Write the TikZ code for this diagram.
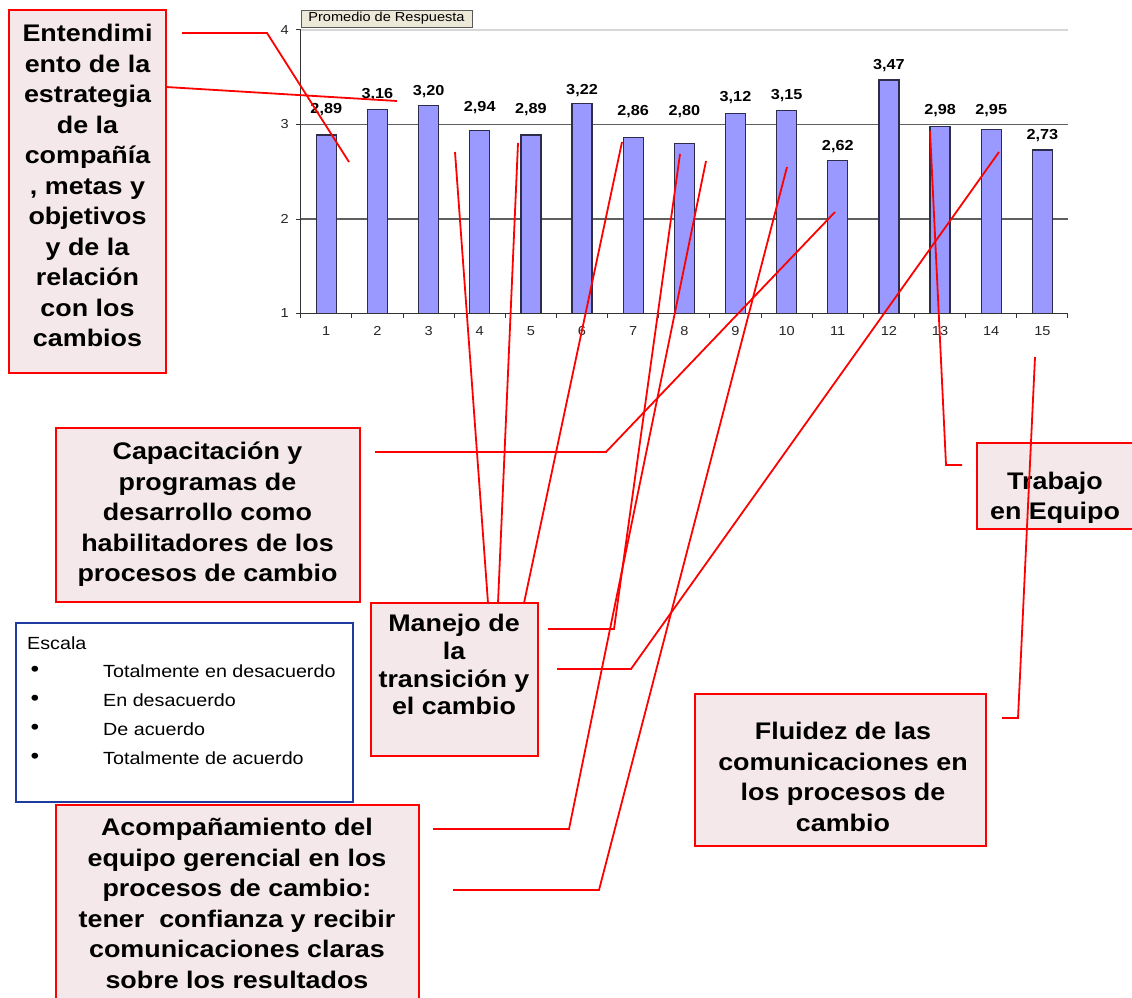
\documentclass[tikz,border=0pt]{standalone}
\usepackage{fontspec}
\setmainfont{Liberation Sans}[FakeStretch=1.12]
\definecolor{boxpink}{RGB}{244,232,234}
\definecolor{barblue}{RGB}{153,153,255}
\definecolor{baredge}{RGB}{45,45,75}
\definecolor{scaleblue}{RGB}{30,60,160}
\definecolor{legendbg}{RGB}{236,233,216}
\definecolor{gridlight}{RGB}{215,215,215}
\definecolor{griddark}{RGB}{95,95,95}
\begin{document}
\begin{tikzpicture}[x=1pt,y=-1pt,
  link/.style={draw=red, line width=1.8pt, line join=miter},
  notebox/.style={draw=red, line width=2pt, fill=boxpink, inner sep=0pt},
  bigtext/.style={font=\fontsize{24}{30.5}\selectfont\bfseries, align=center, inner sep=0pt},
  scaletext/.style={font=\fontsize{17.6}{20}\selectfont, anchor=base west, inner sep=0pt},
  bulletmark/.style={font=\fontsize{22}{22}\selectfont, anchor=base, inner sep=0pt},
  barshape/.style={fill=barblue, draw=baredge, line width=1.3pt},
  vallabel/.style={font=\fontsize{14.5}{15}\selectfont\bfseries, inner sep=0pt},
  ticklabel/.style={font=\fontsize{13}{13}\selectfont, text=black!85, inner sep=0pt},
  axisline/.style={draw=black!80, line width=1.2pt}]

\useasboundingbox (0,0) rectangle (1132,998);
\clip (0,0) rectangle (1132,998);
\fill[white] (0,0) rectangle (1132,998);

% ---------- bar chart ----------
\draw[gridlight, line width=1.2pt] (300.7,30) -- (1068,30);
\draw[griddark, line width=1.1pt] (300.7,124.5) -- (1068,124.5);
\draw[griddark, line width=1.1pt] (300.7,219) -- (1068,219);

\foreach \i/\v/\ly/\t in {1/2.89/110/{2,89}, 2/3.16/95/{3,16}, 3/3.20/92/{3,20},
    4/2.94/108/{2,94}, 5/2.89/110/{2,89}, 6/3.22/91/{3,22}, 7/2.86/112/{2,86},
    8/2.80/112/{2,80}, 9/3.12/98/{3,12}, 10/3.15/96/{3,15}, 11/2.62/147/{2,62},
    12/3.47/66/{3,47}, 13/2.98/111/{2,98}, 14/2.95/111/{2,95}, 15/2.73/136/{2,73}} {
  \pgfmathsetmacro\cx{300.7+(\i-0.5)*51.15}
  \pgfmathsetmacro\tp{313.5-(\v-1)*94.5}
  \draw[barshape] ({\cx-10},313.5) rectangle ({\cx+10},\tp);
  \node[vallabel] (val\i) at (\cx,\ly) {\t};
  \node[ticklabel] (cat\i) at (\cx,331) {\i};
}

\draw[axisline] (300.7,30) -- (300.7,313.5) -- (1068,313.5);
\foreach \k in {0,...,15}
  \draw[axisline, line width=1pt] ({300.7+\k*51.15},313.5) -- ++(0,4);
\foreach \v in {1,2,3,4} {
  \pgfmathsetmacro\yy{313.5-(\v-1)*94.5}
  \draw[axisline, line width=1pt] (296.2,\yy) -- (300.7,\yy);
  \node[ticklabel, anchor=east] (ylab\v) at (289,\yy) {\v};
}

\node[draw=black!65, fill=legendbg, line width=0.9pt, minimum width=171pt,
      minimum height=17pt, inner sep=0pt, font=\fontsize{13}{13}\selectfont]
      (legend) at (386.5,18.5) {Promedio de Respuesta};

% ---------- callout boxes ----------
\node[notebox, minimum width=157pt, minimum height=363pt] (ent) at (87.5,191.5) {};
\node[bigtext] (enttxt) at (87.5,185.5) {Entendimi\\ento de la\\estrategia\\de la\\compañía\\, metas y\\objetivos\\y de la\\relación\\con los\\cambios};

\node[notebox, minimum width=304pt, minimum height=174pt] (cap) at (208,515) {};
\node[bigtext] (captxt) at (207.5,514.5) {Capacitación y\\programas de\\desarrollo como\\habilitadores de los\\procesos de cambio};

\node[notebox, minimum width=167pt, minimum height=153pt] (man) at (454.5,679.5) {};
\node[bigtext, font=\fontsize{24}{27.8}\selectfont\bfseries] (mantxt) at (454,664.6)
  {Manejo de\\la\\transición y\\el cambio};

\node[notebox, minimum width=363pt, minimum height=205pt] (aco) at (237.5,907.5) {};
\node[bigtext] (acotxt) at (237,903.5) {Acompañamiento del\\equipo gerencial en los\\procesos de cambio:\\tener\ \ confianza y recibir\\comunicaciones claras\\sobre los resultados};

\node[notebox, minimum width=291pt, minimum height=152pt] (flu) at (840.5,770) {};
\node[bigtext] (flutxt) at (843,777) {Fluidez de las\\comunicaciones en\\los procesos de\\cambio};

\node[notebox, minimum width=173pt, minimum height=86pt] (tra) at (1063.5,486) {};
\begin{scope}
  \clip (978,444) rectangle (1140,522);
  \node[bigtext, font=\fontsize{24}{29.3}\selectfont\bfseries] (tratxt) at (1055,498.4) {Trabajo\\en Equipo};
\end{scope}

% ---------- scale legend ----------
\node[draw=scaleblue, line width=1.6pt, fill=white, minimum width=337pt,
      minimum height=179pt, inner sep=0pt] (esc) at (184.5,712.5) {};
\node[scaletext] (esc0) at (27,649) {Escala};
\foreach \n/\yb/\t in {1/677/{Totalmente en desacuerdo}, 2/706/{En desacuerdo},
                       3/735/{De acuerdo}, 4/764/{Totalmente de acuerdo}} {
  \node[bulletmark] (bul\n) at (35,{\yb-1}) {•};
  \node[scaletext] (esc\n) at (103,\yb) {\t};
}

% ---------- connector end points ----------
\coordinate (a1) at (182,33);  \coordinate (a2) at (267,33);  \coordinate (a3) at (349,162);
\coordinate (b1) at (166,87);  \coordinate (b2) at (397,101);
\coordinate (c1) at (375,452); \coordinate (c2) at (606,452); \coordinate (c3) at (835,212);
\coordinate (m1) at (488,603); \coordinate (m1t) at (455,152);
\coordinate (m2) at (498,603); \coordinate (m2t) at (518,143);
\coordinate (m3) at (524,603); \coordinate (m3t) at (622,142);
\coordinate (r1) at (548,629); \coordinate (r1k) at (614,629); \coordinate (r1t) at (680,154);
\coordinate (r2) at (557,669); \coordinate (r2k) at (631,669); \coordinate (r2t) at (999,152);
\coordinate (g1) at (433,829); \coordinate (g1k) at (569,829); \coordinate (g1t) at (706,161);
\coordinate (g2) at (453,890); \coordinate (g2k) at (599,890); \coordinate (g2t) at (787,167);
\coordinate (f1) at (1002,718); \coordinate (f1k) at (1018,718); \coordinate (f1t) at (1035,357);
\coordinate (t1) at (962,465); \coordinate (t1k) at (946,465); \coordinate (t1t) at (930,131);

% ---------- connectors ----------
\draw[link] (a1) -- (a2) -- (a3);
\draw[link] (b1) -- (b2);
\draw[link] (c1) -- (c2) -- (c3);
\draw[link] (m1) -- (m1t);
\draw[link] (m2) -- (m2t);
\draw[link] (m3) -- (m3t);
\draw[link] (r1) -- (r1k) -- (r1t);
\draw[link] (r2) -- (r2k) -- (r2t);
\draw[link] (g1) -- (g1k) -- (g1t);
\draw[link] (g2) -- (g2k) -- (g2t);
\draw[link] (f1) -- (f1k) -- (f1t);
\draw[link] (t1) -- (t1k) -- (t1t);
\end{tikzpicture}
\end{document}
